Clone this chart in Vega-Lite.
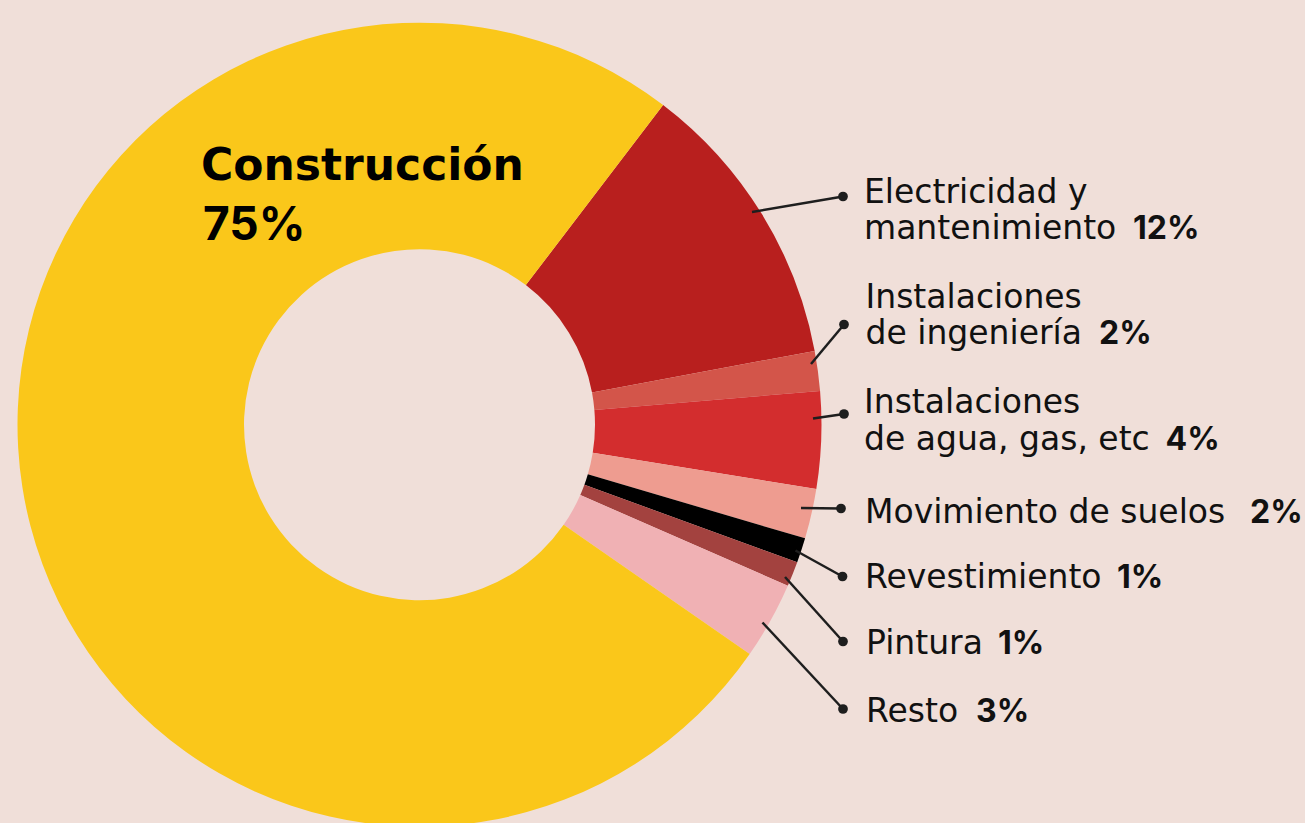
{
  "$schema": "https://vega.github.io/schema/vega-lite/v6.json",
  "width": 1305,
  "height": 823,
  "autosize": {"type": "none"},
  "padding": 0,
  "background": "#F0DFD9",
  "config": {"view": {"stroke": null}},
  "datasets": {
    "sectores": [
      {"sector": "Electricidad y mantenimiento", "valor": 11.7, "orden": 1},
      {"sector": "Instalaciones de ingeniería", "valor": 1.6, "orden": 2},
      {"sector": "Instalaciones de agua, gas, etc", "valor": 3.9, "orden": 3},
      {"sector": "Movimiento de suelos", "valor": 2.0, "orden": 4},
      {"sector": "Revestimiento", "valor": 1.0, "orden": 5},
      {"sector": "Pintura", "valor": 1.0, "orden": 6},
      {"sector": "Resto", "valor": 3.1, "orden": 7},
      {"sector": "Construcción", "valor": 75.7, "orden": 8}
    ],
    "lineas": [
      {"sector": "Electricidad y mantenimiento", "xa": 752, "ya": 212, "xb": 843, "yb": 196.5},
      {"sector": "Instalaciones de ingeniería", "xa": 811, "ya": 364, "xb": 844, "yb": 324.5},
      {"sector": "Instalaciones de agua, gas, etc", "xa": 813, "ya": 418.5, "xb": 844, "yb": 414},
      {"sector": "Movimiento de suelos", "xa": 801, "ya": 508, "xb": 841, "yb": 508.5},
      {"sector": "Revestimiento", "xa": 795.5, "ya": 550.5, "xb": 842.5, "yb": 576.5},
      {"sector": "Pintura", "xa": 785, "ya": 577, "xb": 843, "yb": 641.5},
      {"sector": "Resto", "xa": 762.5, "ya": 622.5, "xb": 843, "yb": 709}
    ],
    "textos": [
      {"texto": "Electricidad y", "x": 864, "y": 202.5},
      {"texto": "mantenimiento", "x": 864, "y": 239},
      {"texto": "Instalaciones", "x": 865.5, "y": 307.5},
      {"texto": "de ingeniería", "x": 865.5, "y": 344},
      {"texto": "Instalaciones", "x": 864, "y": 413},
      {"texto": "de agua, gas, etc", "x": 864, "y": 450},
      {"texto": "Movimiento de suelos", "x": 865, "y": 522.5},
      {"texto": "Revestimiento", "x": 865, "y": 588},
      {"texto": "Pintura", "x": 866, "y": 653.5},
      {"texto": "Resto", "x": 866, "y": 721.5}
    ],
    "negritas": [
      {"texto": "12%", "x": 1133, "y": 239},
      {"texto": "2%", "x": 1099, "y": 344},
      {"texto": "4%", "x": 1165.5, "y": 450},
      {"texto": "2%", "x": 1250, "y": 522.5},
      {"texto": "1%", "x": 1117, "y": 588},
      {"texto": "1%", "x": 998, "y": 653.5},
      {"texto": "3%", "x": 976, "y": 721.5}
    ],
    "titulo": [
      {"texto": "Construcción", "x": 201, "y": 179.5}
    ],
    "titulo75": [
      {"texto": "75%", "x": 203, "y": 239.5}
    ]
  },
  "layer": [
    {
      "data": {"name": "sectores"},
      "mark": {"type": "arc", "outerRadius": 402, "innerRadius": 175.5},
      "encoding": {
        "theta": {"field": "valor", "type": "quantitative", "stack": true, "scale": {"range": [0.651, 6.9342]}},
        "order": {"field": "orden", "type": "quantitative"},
        "color": {
          "field": "sector", "type": "nominal", "legend": null,
          "scale": {
            "domain": ["Electricidad y mantenimiento", "Instalaciones de ingeniería", "Instalaciones de agua, gas, etc", "Movimiento de suelos", "Revestimiento", "Pintura", "Resto", "Construcción"],
            "range": ["#B81F1E", "#D3554A", "#D32D2E", "#EE9C90", "#000000", "#A3423F", "#F0B1B4", "#FAC71A"]
          }
        },
        "x": {"datum": 419.5, "type": "quantitative", "axis": null, "scale": {"domain": [0, 1305], "nice": false, "zero": false}},
        "y": {"datum": 424.7, "type": "quantitative", "axis": null, "scale": {"domain": [0, 823], "reverse": true, "nice": false, "zero": false}}
      }
    },
    {
      "data": {"name": "lineas"},
      "mark": {"type": "rule", "color": "#1E1E1E", "strokeWidth": 2.5},
      "encoding": {
        "x": {"field": "xa", "type": "quantitative", "axis": null, "scale": {"domain": [0, 1305], "nice": false, "zero": false}},
        "y": {"field": "ya", "type": "quantitative", "axis": null, "scale": {"domain": [0, 823], "reverse": true, "nice": false, "zero": false}},
        "x2": {"field": "xb"},
        "y2": {"field": "yb"}
      }
    },
    {
      "data": {"name": "lineas"},
      "mark": {"type": "point", "shape": "circle", "filled": true, "size": 95, "color": "#1E1E1E", "opacity": 1},
      "encoding": {
        "x": {"field": "xb", "type": "quantitative", "axis": null, "scale": {"domain": [0, 1305], "nice": false, "zero": false}},
        "y": {"field": "yb", "type": "quantitative", "axis": null, "scale": {"domain": [0, 823], "reverse": true, "nice": false, "zero": false}}
      }
    },
    {
      "data": {"name": "textos"},
      "mark": {"type": "text", "align": "left", "baseline": "alphabetic", "font": "DejaVu Sans", "fontSize": 33, "fontWeight": 400, "color": "#111111"},
      "encoding": {
        "x": {"field": "x", "type": "quantitative", "axis": null, "scale": {"domain": [0, 1305], "nice": false, "zero": false}},
        "y": {"field": "y", "type": "quantitative", "axis": null, "scale": {"domain": [0, 823], "reverse": true, "nice": false, "zero": false}},
        "text": {"field": "texto"}
      }
    },
    {
      "data": {"name": "negritas"},
      "mark": {"type": "text", "align": "left", "baseline": "alphabetic", "font": "Inter", "fontSize": 32, "fontWeight": "bold", "color": "#111111"},
      "encoding": {
        "x": {"field": "x", "type": "quantitative", "axis": null, "scale": {"domain": [0, 1305], "nice": false, "zero": false}},
        "y": {"field": "y", "type": "quantitative", "axis": null, "scale": {"domain": [0, 823], "reverse": true, "nice": false, "zero": false}},
        "text": {"field": "texto"}
      }
    },
    {
      "data": {"name": "titulo"},
      "mark": {"type": "text", "align": "left", "baseline": "alphabetic", "font": "DejaVu Sans", "fontSize": 44, "fontWeight": "bold", "color": "#000000"},
      "encoding": {
        "x": {"field": "x", "type": "quantitative", "axis": null, "scale": {"domain": [0, 1305], "nice": false, "zero": false}},
        "y": {"field": "y", "type": "quantitative", "axis": null, "scale": {"domain": [0, 823], "reverse": true, "nice": false, "zero": false}},
        "text": {"field": "texto"}
      }
    },
    {
      "data": {"name": "titulo75"},
      "mark": {"type": "text", "align": "left", "baseline": "alphabetic", "font": "Inter", "fontSize": 46, "fontWeight": "bold", "color": "#000000"},
      "encoding": {
        "x": {"field": "x", "type": "quantitative", "axis": null, "scale": {"domain": [0, 1305], "nice": false, "zero": false}},
        "y": {"field": "y", "type": "quantitative", "axis": null, "scale": {"domain": [0, 823], "reverse": true, "nice": false, "zero": false}},
        "text": {"field": "texto"}
      }
    }
  ]
}
